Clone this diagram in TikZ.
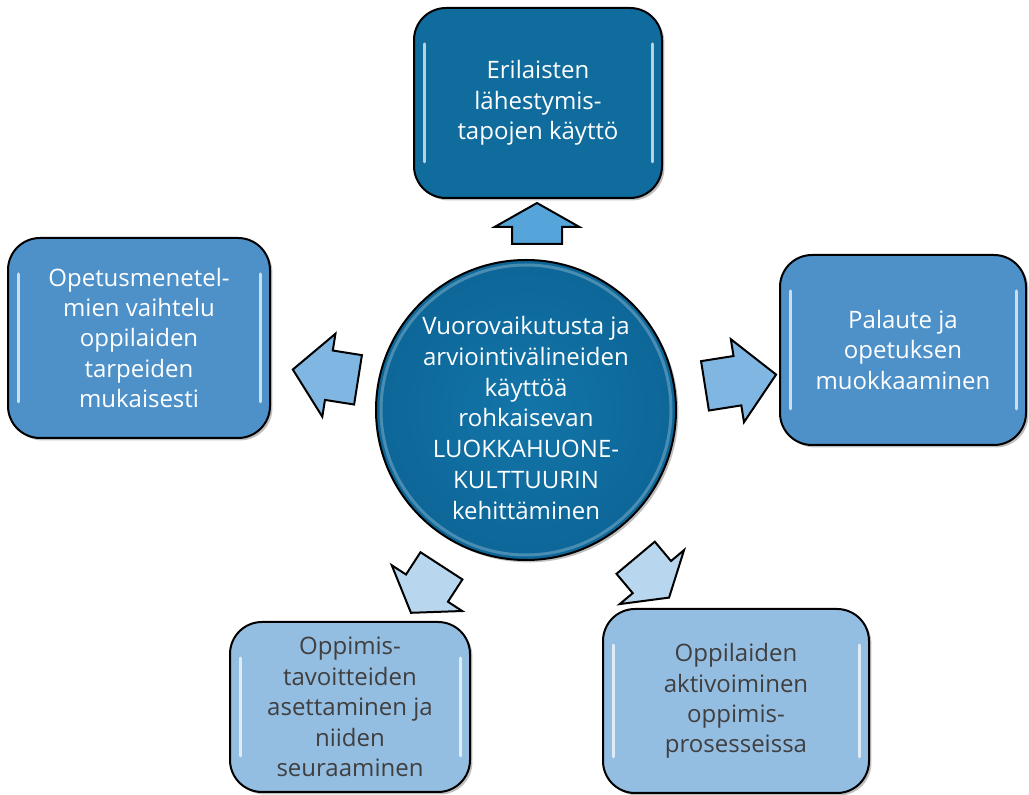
\documentclass[tikz,border=0pt]{standalone}
\usepackage{fontspec}
\setmainfont{Open Sans}
\usetikzlibrary{shapes,arrows,positioning,shadows}
\definecolor{darkteal}{HTML}{0F6C9D}
\definecolor{midblue}{HTML}{4E91C9}
\definecolor{paleblue}{HTML}{94BDE2}
\definecolor{hubblue}{HTML}{1375A8}
\definecolor{hubedge}{HTML}{0D6698}
\definecolor{arrowdark}{HTML}{55A5DA}
\definecolor{arrowmid}{HTML}{80B6E2}
\definecolor{arrowpale}{HTML}{B8D7EF}
\definecolor{textgray}{HTML}{3F3F3F}
\tikzset{
  gloss/.style = {path picture={
      \draw[white, opacity=0.7, line width=1.5pt, line cap=round]
        ([xshift=5pt,yshift=-18pt]path picture bounding box.north west) --
        ([xshift=5pt,yshift=18pt]path picture bounding box.south west);
      \draw[white, opacity=0.7, line width=1.5pt, line cap=round]
        ([xshift=-5pt,yshift=-18pt]path picture bounding box.north east) --
        ([xshift=-5pt,yshift=18pt]path picture bounding box.south east);}},
  topicbox/.style = {draw=black, line width=1pt, rounded corners=16pt,
      inner sep=0pt, align=center, gloss,
      drop shadow={shadow xshift=1.2pt, shadow yshift=-1.2pt, opacity=0.5}},
  hub/.style = {circle, draw=black, line width=1pt, inner sep=0pt,
      minimum size=150pt, inner color=hubblue, outer color=hubedge,
      path picture={\draw[white, opacity=0.25, line width=1.5pt]
        (path picture bounding box.center) circle (72.5pt);},
      drop shadow={shadow xshift=1.2pt, shadow yshift=-1.2pt, opacity=0.5}},
  hubtext/.style = {align=center, text=white, yshift=-4pt,
      font=\fontsize{12}{15.4}\selectfont},
  blockarrow/.style = {single arrow, draw=black, line width=1pt, anchor=tail,
      inner xsep=0pt, inner ysep=12pt, single arrow head extend=8.5pt},
}

\begin{document}
\begin{tikzpicture}[x=0.5pt, y=-0.5pt, font=\fontsize{12}{15.2}\selectfont]
    \useasboundingbox (0,0) rectangle (1029,795);

    % keskus
    \node [hub, label={[hubtext]center:{Vuorovaikutusta ja\\arviointivälineiden\\käyttöä\\rohkaisevan\\LUOKKAHUONE-\\KULTTUURIN\\kehittäminen}}] (hub) at (526,410) {};

    % laatikot
    \node [topicbox, fill=darkteal, text=white, minimum width=124pt, minimum height=95pt] (lahest) at (538,103) {Erilaisten\\lähestymis-\\tapojen käyttö};
    \node [topicbox, fill=midblue, text=white, minimum width=131pt, minimum height=100pt] (menet) at (139,338) {Opetusmenetel-\\mien vaihtelu\\oppilaiden\\tarpeiden\\mukaisesti};
    \node [topicbox, fill=midblue, text=white, minimum width=123pt, minimum height=95pt] (palaute) at (903,350) {Palaute ja\\opetuksen\\muokkaaminen};
    \node [topicbox, fill=paleblue, text=textgray, minimum width=120pt, minimum height=85pt] (tavoit) at (350,707) {Oppimis-\\tavoitteiden\\asettaminen ja\\niiden\\seuraaminen};
    \node [topicbox, fill=paleblue, text=textgray, minimum width=133pt, minimum height=92pt] (aktiv) at (736,701) {Oppilaiden\\aktivoiminen\\oppimis-\\prosesseissa};

    % nuolet
    \node [blockarrow, fill=arrowdark, rotate=90, minimum height=20.5pt, single arrow tip angle=121] (aTop) at (537,245) {};
    \node [blockarrow, fill=arrowmid, rotate=171, minimum height=33pt, single arrow tip angle=98] (aLeft) at (359,380) {};
    \node [blockarrow, fill=arrowmid, rotate=9, minimum height=36pt, single arrow tip angle=94] (aRight) at (704,386) {};
    \node [blockarrow, fill=arrowpale, rotate=237, minimum height=28pt, single arrow tip angle=110] (aLow1) at (442,565) {};
    \node [blockarrow, fill=arrowpale, rotate=310, minimum height=26pt, single arrow tip angle=115] (aLow2) at (635,557) {};
\end{tikzpicture}
\end{document}
